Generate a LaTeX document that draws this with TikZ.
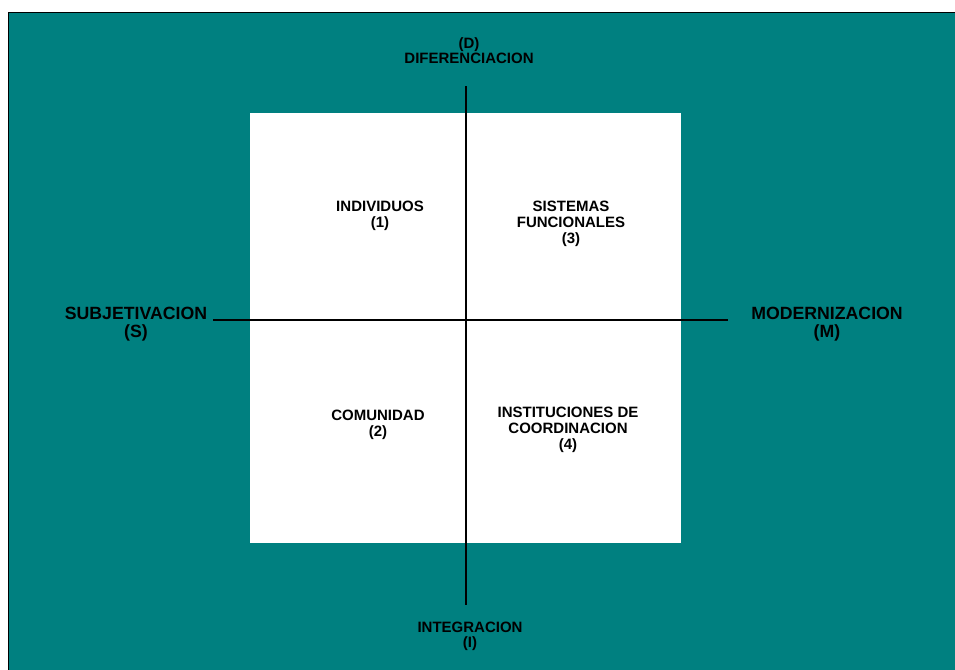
\documentclass[tikz,border=0pt]{standalone}
\usepackage{fontspec}
\setmainfont{Liberation Sans}
\definecolor{tealbg}{HTML}{008080}
\begin{document}
\begin{tikzpicture}[x=1pt,y=-1pt,
  lbl/.style={inner sep=0pt,align=center,font=\bfseries\fontsize{15}{16}\selectfont},
  axlbl/.style={inner sep=0pt,align=center,font=\bfseries\fontsize{15}{15}\selectfont},
  biglbl/.style={inner sep=0pt,align=center,font=\bfseries\fontsize{17.7}{18}\selectfont},
  axis/.style={draw=black,line width=2pt}]
\useasboundingbox (0,0) rectangle (955,669);
\fill[white] (0,0) rectangle (955,669);
\draw[fill=tealbg,draw=black,line width=1.5pt] (8.5,12.5) rectangle (970,690);
\fill[white] (250,113) rectangle (681,543);
\coordinate (top) at (466,86);
\coordinate (bot) at (466,605);
\coordinate (lft) at (213,320);
\coordinate (rgt) at (728,320);
\draw[axis] (top) -- (bot);
\draw[axis] (lft) -- (rgt);
\node[axlbl] (d) at (469,51) {(D)\\DIFERENCIACION};
\node[axlbl] (i) at (470,636) {INTEGRACION\\(I)};
\node[biglbl] (s) at (136,324) {SUBJETIVACION\\(S)};
\node[biglbl] (m) at (827,324) {MODERNIZACION\\(M)};
\node[lbl] (q1) at (380,216) {INDIVIDUOS\\(1)};
\node[lbl] (q3) at (571,224) {SISTEMAS\\FUNCIONALES\\(3)};
\node[lbl] (q2) at (378,425) {COMUNIDAD\\(2)};
\node[lbl] (q4) at (568,430) {INSTITUCIONES DE\\COORDINACION\\(4)};
\end{tikzpicture}
\end{document}
